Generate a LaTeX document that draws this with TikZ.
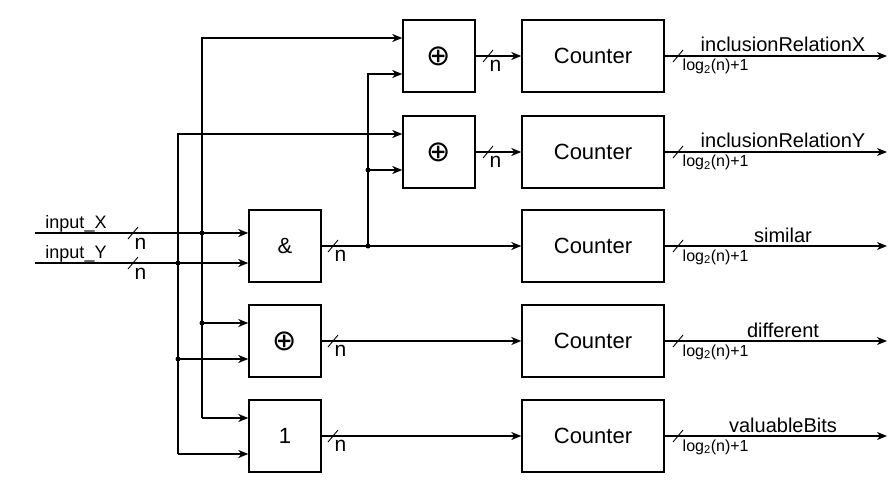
\documentclass[tikz,border=0pt]{standalone}
\usepackage{fontspec}
\setmainfont{Liberation Sans}
\newfontfamily\djv{DejaVu Sans}
\usetikzlibrary{arrows.meta}
\begin{document}
\begin{tikzpicture}[x=1pt,y=-1pt,line width=1.4pt,
  box/.style={draw,line width=1.4pt,minimum width=72pt,minimum height=72pt,inner sep=0pt,font=\fontsize{22}{22}\selectfont},
  cbox/.style={box,minimum width=142pt},
  xorsym/.style={font=\djv\fontsize{29}{29}\selectfont},
  arr/.style={-{Stealth[length=10pt,width=8pt,inset=3pt]}},
  dot/.style={circle,fill,inner sep=0pt,minimum size=5pt},
  inlab/.style={inner sep=0pt,anchor=base,font=\fontsize{18}{18}\selectfont},
  outlab/.style={inner sep=0pt,anchor=base,font=\fontsize{20}{20}\selectfont},
  nlab/.style={inner sep=0pt,anchor=base west,font=\fontsize{21}{21}\selectfont},
  loglab/.style={inner sep=0pt,anchor=base west,font=\fontsize{16}{16}\selectfont},
  busmark/.pic={\draw[line width=0.9pt] (-5pt,-6pt) -- (5pt,6pt);}
]
\useasboundingbox (0,0) rectangle (891,481);

% gates
\node[box,xorsym] (g1) at (439,56) {⊕};
\node[box,xorsym] (g2) at (439,152) {⊕};
\node[box] (gand) at (285,246) {\&};
\node[box,xorsym] (g3) at (285,341) {⊕};
\node[box] (gone) at (285,436) {1};

% counters
\node[cbox] (c1) at (593,56) {Counter};
\node[cbox] (c2) at (593,152) {Counter};
\node[cbox] (c3) at (593,246) {Counter};
\node[cbox] (c4) at (593,341) {Counter};
\node[cbox] (c5) at (593,436) {Counter};

% pins
\coordinate (g1a) at ([yshift=18pt]g1.west);
\coordinate (g1b) at ([yshift=-18pt]g1.west);
\coordinate (g2a) at ([yshift=18pt]g2.west);
\coordinate (g2b) at ([yshift=-18pt]g2.west);
\coordinate (ganda) at ([yshift=13pt]gand.west);
\coordinate (gandb) at ([yshift=-17pt]gand.west);
\coordinate (g3a) at ([yshift=18pt]g3.west);
\coordinate (g3b) at ([yshift=-18pt]g3.west);
\coordinate (gonea) at ([yshift=18pt]gone.west);
\coordinate (goneb) at ([yshift=-18pt]gone.west);

% inputs
\coordinate (inX) at (35,233);
\coordinate (inY) at (35,263);
\node[inlab] (lx) at (76,228) {input\_X};
\node[inlab] (ly) at (76,258) {input\_Y};
\draw[arr] (inX) -- (ganda);
\draw[arr] (inY) -- (gandb);
\pic at (133,233) {busmark};
\pic at (133,263) {busmark};
\node[nlab] (nx) at (134,249) {n};
\node[nlab] (ny) at (134,279) {n};

% vertical bus from input_X (x=202)
\coordinate (P1) at (202,418);
\draw[arr] (P1) |- (g1a);
\draw[arr] (P1) -- (gonea);
\node[dot] (d1) at (202,233) {};
\node[dot] (d2) at (202,323) {};
\draw[arr] (d2.center) -- (g3a);

% vertical bus from input_Y (x=178)
\coordinate (Q1) at (178,454);
\draw[arr] (Q1) |- (g2a);
\draw[arr] (Q1) -- (goneb);
\node[dot] (d3) at (178,263) {};
\node[dot] (d4) at (178,359) {};
\draw[arr] (d4.center) -- (g3b);

% AND output
\draw[arr] (gand) -- (c3);
\node[dot] (d5) at (368,246) {};
\node[dot] (d6) at (368,170) {};
\draw[arr] (d5.center) |- (g1b);
\draw[arr] (d6.center) -- (g2b);
\pic at (333,246) {busmark};
\node[nlab] (n3) at (334,261) {n};

% gate outputs
\draw[arr] (g1) -- (c1);
\draw[arr] (g2) -- (c2);
\draw[arr] (g3) -- (c4);
\draw[arr] (gone) -- (c5);
\pic at (488,56) {busmark};
\pic at (488,152) {busmark};
\node[nlab] (n1) at (489,72) {n};
\node[nlab] (n2) at (489,168) {n};
\pic at (333,341) {busmark};
\pic at (333,436) {busmark};
\node[nlab] (n4) at (334,356) {n};
\node[nlab] (n5) at (334,451) {n};

% counter outputs
\coordinate (o1) at (887,56);
\coordinate (o2) at (887,152);
\coordinate (o3) at (887,246);
\coordinate (o4) at (887,341);
\coordinate (o5) at (887,436);
\draw[arr] (c1) -- (o1);
\draw[arr] (c2) -- (o2);
\draw[arr] (c3) -- (o3);
\draw[arr] (c4) -- (o4);
\draw[arr] (c5) -- (o5);
\foreach \yy/\nm in {56/l1,152/l2,246/l3,341/l4,436/l5}{
  \pic at (678,\yy) {busmark};
  \node[loglab] (\nm) at (682,\yy+15) {log\textsubscript{2}(n)+1};
}
\node[outlab] (t1) at (783,52) {inclusionRelationX};
\node[outlab] (t2) at (783,148) {inclusionRelationY};
\node[outlab] (t3) at (783,242) {similar};
\node[outlab] (t4) at (783,337) {different};
\node[outlab] (t5) at (783,432) {valuableBits};
\end{tikzpicture}
\end{document}
